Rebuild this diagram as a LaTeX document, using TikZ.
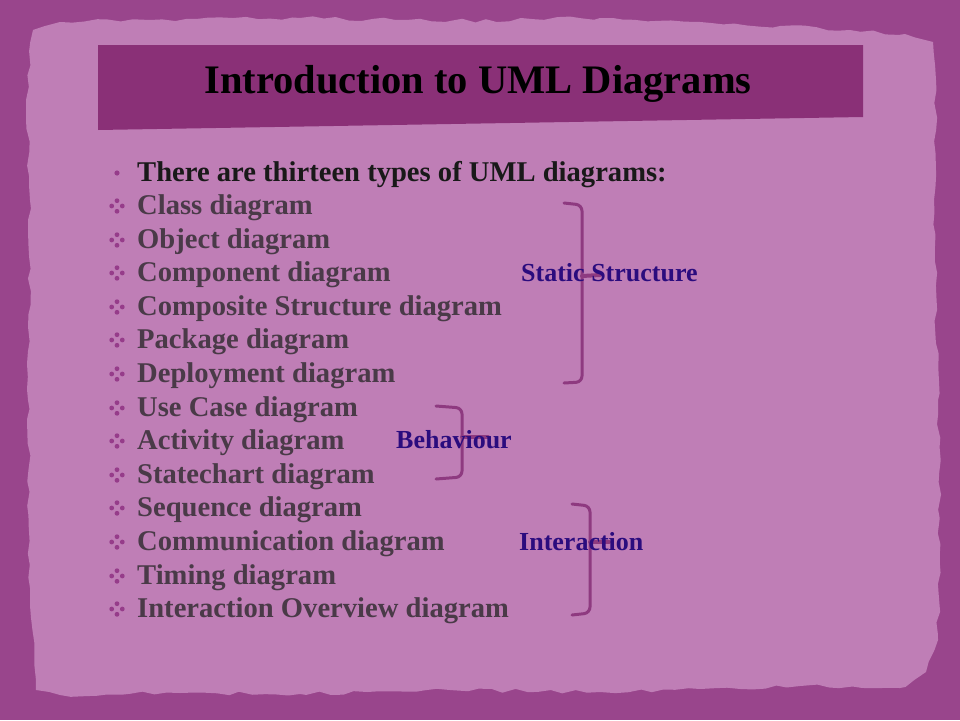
\documentclass[tikz,border=0pt]{standalone}
\usepackage{fontspec}
\setmainfont{Liberation Serif}
\usetikzlibrary{decorations.pathmorphing}
\definecolor{outerc}{HTML}{99458C}
\definecolor{paperc}{HTML}{BF7EB6}
\definecolor{bandc}{HTML}{8A3077}
\definecolor{itemtxt}{HTML}{4A3A48}
\definecolor{labtxt}{HTML}{2B0C7E}
\definecolor{bracec}{HTML}{8E3A80}
\definecolor{bulc}{HTML}{963C8A}
\tikzset{
  itemtext/.style={anchor=base west, inner sep=0pt, text=itemtxt, font=\bfseries\fontsize{28.6}{28.6}\selectfont},
  headtext/.style={anchor=base west, inner sep=0pt, text=black!90, font=\bfseries\fontsize{28.6}{28.6}\selectfont},
  grouplabel/.style={anchor=base west, inner sep=0pt, text=labtxt, font=\bfseries\fontsize{26}{26}\selectfont},
  bracket/.style={draw=bracec, line width=3pt, rounded corners=6pt, line cap=round},
  tick/.style={draw=bracec, line width=4pt, line cap=round},
}
\begin{document}
\begin{tikzpicture}[x=1pt,y=-1pt]
\useasboundingbox (0,0) rectangle (960,720);
\fill[outerc] (0,0) rectangle (960,720);
\pgfmathsetseed{7}
\fill[paperc, decorate, decoration={random steps, segment length=12pt, amplitude=2pt}]
 (33,30) -- (60,22) -- (150,20) -- (300,18) -- (450,21) -- (600,18) -- (700,22) -- (780,26)
 -- (850,30) -- (905,34) -- (933,42) -- (936,80) -- (934,200) -- (938,400) -- (940,550)
 -- (938,640) -- (926,672) -- (900,688) -- (800,686) -- (700,689) -- (600,692) -- (450,690)
 -- (300,694) -- (180,693) -- (60,695) -- (36,690) -- (30,600) -- (28,400) -- (30,200) -- (26,100) -- cycle;
% title band
\fill[bandc] (98,45) -- (863,45) -- (863,117) -- (98,130) -- cycle;
\node[font=\bfseries\fontsize{40.5}{40.5}\selectfont, text=black, inner sep=0pt] (title) at (478,84) {Introduction to UML Diagrams};
% head line
\fill[bulc] (117,173) circle (2.6pt);
\node[headtext] (head) at (137,181) {There are thirteen types of UML diagrams:};
% items
\foreach \yy/\txt [count=\i] in {
 206/Class diagram,
 240/Object diagram,
 273/Component diagram,
 307/Composite Structure diagram,
 340/Package diagram,
 374/Deployment diagram,
 408/Use Case diagram,
 441/Activity diagram,
 475/Statechart diagram,
 508/Sequence diagram,
 542/Communication diagram,
 576/Timing diagram,
 609/Interaction Overview diagram}{
  \fill[bulc] (117,\yy-5.3) circle (2.4pt) (117,\yy+5.3) circle (2.4pt)
              (111.7,\yy) circle (2.4pt) (122.3,\yy) circle (2.4pt);
  \node[itemtext] (item\i) at (137,\yy+8) {\txt};
}
% Static Structure bracket
\coordinate (sA) at (564,203);
\coordinate (sB) at (564,383);
\coordinate (sM) at (582,276);
\coordinate (sT) at (600,275);
\draw[bracket] (sA) -- (582,205) -- (582,382) -- (sB);
\draw[tick] (sM) -- (sT);
\node[grouplabel] (lstatic) at (521,281) {Static Structure};
% Behaviour bracket
\coordinate (bA) at (436,406);
\coordinate (bB) at (436,479);
\coordinate (bM) at (462,437);
\coordinate (bT) at (488,437);
\draw[bracket] (bA) -- (462,408) -- (462,477) -- (bB);
\draw[tick] (bM) -- (bT);
\node[grouplabel] (lbeh) at (396,448) {Behaviour};
% Interaction bracket
\coordinate (iA) at (572,504);
\coordinate (iB) at (572,615);
\coordinate (iM) at (590,542);
\coordinate (iT) at (609,542);
\draw[bracket] (iA) -- (590,506) -- (590,613) -- (iB);
\draw[tick] (iM) -- (iT);
\node[grouplabel] (linter) at (519,550) {Interaction};
\end{tikzpicture}
\end{document}
